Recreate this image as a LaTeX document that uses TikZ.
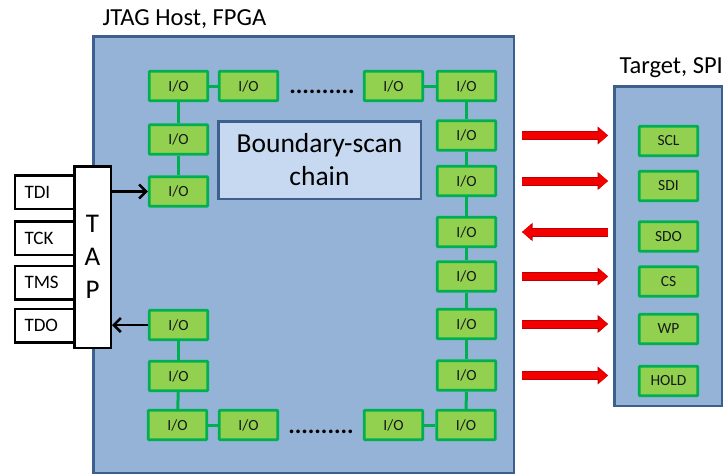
\documentclass[tikz,border=0pt]{standalone}
\usepackage{fontspec}
\setmainfont{Carlito}
\usetikzlibrary{arrows.meta}

\definecolor{chipfill}{HTML}{95B3D7}
\definecolor{chipedge}{HTML}{3C5F8E}
\definecolor{iofill}{HTML}{92D050}
\definecolor{ioedge}{HTML}{00B050}
\definecolor{bsfill}{HTML}{C6D9F1}
\definecolor{arrowred}{HTML}{F20000}
\definecolor{arrowdark}{HTML}{C00000}

\begin{document}
\begin{tikzpicture}[x=1pt,y=-1pt,
  chip/.style={draw=chipedge, fill=chipfill, line width=2.5pt, inner sep=0pt},
  io/.style={draw=ioedge, fill=iofill, line width=2.6pt, rounded corners=0.8pt,
    minimum width=58.5pt, minimum height=29.5pt, inner sep=0pt,
    font=\fontsize{15.5}{15.5}\selectfont, text=black!90},
  link/.style={draw=ioedge, line width=3pt},
  pinbox/.style={draw=black, fill=white, line width=2.5pt, minimum height=33.5pt,
    text width=45pt, inner xsep=9.5pt, inner ysep=0pt, align=left,
    font=\fontsize{19}{19}\selectfont},
  sig/.style={draw=black, line width=2.6pt, -{Straight Barb[length=7pt,width=14pt]}},
  bigarrow/.style={draw=arrowred, line width=7pt, -{Triangle[width=15pt,length=9pt]},
    preaction={draw=arrowdark, line width=9pt, -{Triangle[width=17.5pt,length=10.5pt]}}},
  title/.style={font=\fontsize{24.5}{24.5}\selectfont, anchor=base west},
  dots/.style={font=\fontsize{24.5}{24.5}\selectfont\bfseries, anchor=base, inner sep=0pt}
]
\useasboundingbox (0,0) rectangle (725,475);

% host and target outlines
\node[chip, minimum width=420.5pt, minimum height=436.5pt] (fpga) at (303.5,254.5) {};
\node[chip, minimum width=107.5pt, minimum height=319.5pt] (target) at (668,246) {};
\node[title] (hosttitle) at (99,25) {JTAG Host, FPGA};
\node[title] (targettitle) at (616,73) {Target, SPI};

% boundary-scan chain label
\node[draw=chipedge, fill=bsfill, line width=2.5pt, minimum width=202.5pt,
  minimum height=77.5pt, inner sep=0pt, align=center,
  font=\fontsize{27.5}{33}\selectfont] (bsc) at (319.5,160) {Boundary-scan\\chain};

% top row of cells
\node[io] (T1) at (178.5,86) {I/O};
\node[io] (T2) at (248.5,86) {I/O};
\node[io] (T3) at (393.5,86) {I/O};
\node[io] (T4) at (466.5,86) {I/O};
\node[dots] (tdots) at (322,93) {..........};

% left column
\node[io] (L1) at (178.5,139.5) {I/O};
\node[io] (L2) at (178.5,191.5) {I/O};
\node[io] (L3) at (178.5,325) {I/O};
\node[io] (L4) at (178.5,376) {I/O};

% right column
\node[io] (R1) at (466.5,135.5) {I/O};
\node[io] (R2) at (466.5,181) {I/O};
\node[io] (R3) at (466.5,232) {I/O};
\node[io] (R4) at (466.5,276.5) {I/O};
\node[io] (R5) at (466.5,324) {I/O};
\node[io] (R6) at (466.5,375.5) {I/O};

% bottom row of cells
\node[io] (B1) at (177.5,425) {I/O};
\node[io] (B2) at (248.5,425) {I/O};
\node[io] (B3) at (393.5,425) {I/O};
\node[io] (B4) at (466,425) {I/O};
\node[dots] (bdots) at (321,433) {..........};

% chain links
\draw[link] (T1) -- (T2);
\draw[link] (T3) -- (T4);
\draw[link] (T1) -- (L1);
\draw[link] (L1) -- (L2);
\draw[link] (L3) -- (L4);
\draw[link] (L4) -- (B1);
\draw[link] (B1) -- (B2);
\draw[link] (B3) -- (B4);
\draw[link] (T4) -- (R1);
\draw[link] (R1) -- (R2);
\draw[link] (R2) -- (R3);
\draw[link] (R3) -- (R4);
\draw[link] (R4) -- (R5);
\draw[link] (R5) -- (R6);
\draw[link] (R6) -- (B4);

% SPI pins of the target
\node[io] (scl)  at (668.5,141)   {SCL};
\node[io] (sdi)  at (668.5,186)   {SDI};
\node[io] (sdo)  at (668.5,236.5) {SDO};
\node[io] (cs)   at (668.5,281.5) {CS};
\node[io] (wp)   at (668.5,329)   {WP};
\node[io] (hold) at (668.5,381)   {HOLD};

% JTAG pins and TAP controller
\node[pinbox] (tdi) at (47,192)   {TDI};
\node[pinbox] (tck) at (47,238)   {TCK};
\node[pinbox] (tms) at (47,282.5) {TMS};
\node[pinbox] (tdo) at (47,325.5) {TDO};
\node[draw=black, fill=white, line width=2.5pt, minimum width=36.5pt,
  minimum height=181.5pt, inner sep=0pt, align=center,
  font=\fontsize{27}{33}\selectfont] (tap) at (92.5,257) {T\\A\\P};

% scan data in and out
\draw[sig] (L2.west -| tap.east) -- (L2.west);
\draw[sig] (L3.west) -- (L3.west -| tap.east);

% SPI signal directions
\draw[bigarrow] ([xshift=25pt]R1.east) -- ([xshift=-5pt]R1.east -| target.west);
\draw[bigarrow] ([xshift=25pt]R2.east) -- ([xshift=-5pt]R2.east -| target.west);
\draw[bigarrow] ([xshift=-5pt]R3.east -| target.west) -- ([xshift=25pt]R3.east);
\draw[bigarrow] ([xshift=25pt]R4.east) -- ([xshift=-5pt]R4.east -| target.west);
\draw[bigarrow] ([xshift=25pt]R5.east) -- ([xshift=-5pt]R5.east -| target.west);
\draw[bigarrow] ([xshift=25pt]R6.east) -- ([xshift=-5pt]R6.east -| target.west);
\end{tikzpicture}
\end{document}
